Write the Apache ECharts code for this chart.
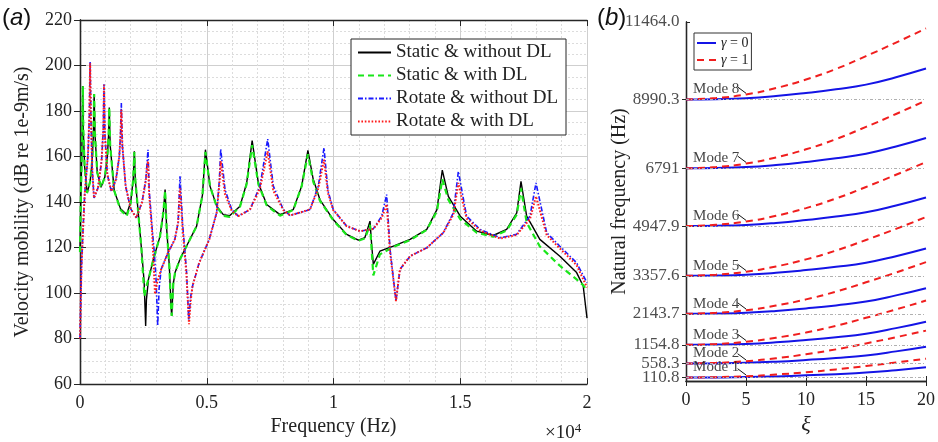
<!DOCTYPE html>
<html><head><meta charset="utf-8">
<script src="https://cdn.jsdelivr.net/npm/echarts@6/dist/echarts.min.js"></script>
<style>html,body{margin:0;padding:0;background:#fff}#c{width:938px;height:442px}</style>
</head><body><div id="c"></div>
<script>
// ---------- Panel (a): frequency response, [Hz, dB] ----------
const staticNoDL = [[0,118],[30,140],[70,160],[95,176],[110.8,191],[130,172],[180,156],[280,144],[400,149],[480,158],[530,170],[558.3,187.5],[590,170],[680,153],[830,146.5],[980,151],[1080,160],[1130,170],[1154.8,181.5],[1190,165],[1350,145],[1600,137],[1840,134.5],[2000,140],[2100,150],[2143.7,162.3],[2180,150],[2300,135],[2420,120],[2530,105],[2590,85.5],[2620,97],[2700,106],[2893,114.8],[3156,124.9],[3287,135.4],[3357.6,145.5],[3420,128],[3524,111.9],[3590,94.3],[3617,89.9],[3680,104],[3750,109],[3940,114.8],[4200,120.6],[4600,129.4],[4830,143],[4947.9,163],[5128,147],[5392,138.2],[5653,134.5],[5900,134],[6312,138.2],[6575,148.4],[6791,167],[7035,148.4],[7364,138.9],[7890,134.5],[8414,136.7],[8744,147],[8990.3,162.7],[9200,150],[9467,141],[9990,132.3],[10520,125.8],[10980,123.3],[11240,124.4],[11440,131.6],[11500,122],[11571,112.6],[11830,118.4],[12360,120.6],[13020,123.6],[13680,128],[14080,136.7],[14292,154],[14530,142.5],[15000,133.8],[15650,127.2],[16300,125.3],[16830,128],[17230,135.3],[17396,149.1],[17620,133.8],[18140,123.6],[18930,116.2],[19590,109],[19850,103.1],[20000,89]];
const staticDL = [[0,118],[30,140],[70,160],[95,176],[110.8,191],[130,172],[180,156],[280,144],[400,149],[480,158],[530,170],[558.3,187.5],[590,170],[680,153],[830,146.5],[980,151],[1080,160],[1130,170],[1154.8,181.5],[1190,165],[1350,145],[1600,136.5],[1840,133.8],[2000,139.5],[2100,150],[2143.7,162],[2180,150],[2300,135],[2420,120],[2500,106],[2540,98.5],[2620,103],[2700,106],[2893,114.8],[3156,124.9],[3287,135.4],[3357.6,145],[3420,128],[3524,111.9],[3590,94.3],[3617,90],[3680,104],[3750,109],[3940,114.8],[4200,120.6],[4600,129.4],[4830,143],[4947.9,162],[5128,147],[5392,138],[5653,134],[5900,133.5],[6312,138],[6575,148],[6791,165],[7035,148],[7364,138.5],[7890,134],[8414,136.5],[8744,147],[8990.3,161],[9200,149],[9467,140.5],[9990,132],[10520,125.5],[10980,123],[11240,124],[11440,130],[11500,120],[11571,107.8],[11830,117],[12360,120.3],[13020,123.3],[13680,127.8],[14080,136],[14292,150],[14530,141],[15000,132.5],[15650,126.5],[16300,124.8],[16830,127.5],[17230,134.5],[17396,146],[17620,131],[18140,120.5],[18930,112],[19590,106],[19850,103.5],[20000,101]];
const rotNoDL = [[0,80],[60,112],[120,128],[185,143.3],[316,160.8],[370,178],[400,201.5],[430,178],[480,155],[552,141.8],[710,146.2],[850,158],[920,172],[947,191.8],[980,170],[1080,152],[1236,144.7],[1420,150],[1550,160],[1600,170],[1630,183.5],[1670,165],[1800,147],[2000,137],[2222,133.1],[2450,140],[2600,150],[2650,158],[2682,163],[2730,145],[2850,128],[2930,118],[3000,106],[3065,85.6],[3120,102],[3200,110.4],[3470,117.7],[3740,123.6],[3870,130.9],[3945,151.3],[4050,130],[4200,110],[4290,88],[4360,98],[4440,103.1],[4700,113.3],[5100,123.6],[5390,135.3],[5500,150],[5550,163.3],[5720,145.5],[5984,136.7],[6245,133.8],[6706,136.7],[7100,147],[7404,167.7],[7626,147],[8020,136.7],[8284,134.1],[9073,136.7],[9400,147],[9625,163.8],[9780,145],[9990,136.7],[10520,129.4],[11045,127.2],[11570,128.2],[11900,133.8],[12097,143.3],[12230,119.2],[12465,96.5],[12620,110.4],[13020,116.2],[13680,119.9],[14330,126.5],[14730,135.3],[14925,153.5],[15250,133.8],[15780,128],[16570,124.3],[17220,125.8],[17750,133.8],[17988,148.4],[18410,126.5],[18930,120.6],[19590,113.3],[20000,104.6]];
const rotDL = [[0,80],[60,112],[120,128],[185,143.3],[316,160.8],[370,178],[400,201],[430,178],[480,155],[552,141.8],[710,146.2],[850,158],[920,172],[947,191.5],[980,170],[1080,152],[1236,144.7],[1420,150],[1550,160],[1600,170],[1630,180.5],[1670,165],[1800,147],[2000,137],[2222,133.1],[2450,140],[2600,150],[2650,156],[2682,158],[2730,143],[2850,126],[2959,99.5],[3050,105],[3200,110.4],[3470,117.7],[3740,123.6],[3870,130.9],[3945,146],[4050,128],[4200,108],[4300,86.3],[4370,97],[4440,103.1],[4700,113.3],[5100,123.6],[5390,135.3],[5500,148],[5550,158],[5720,143.5],[5984,136.2],[6245,133.8],[6706,136.7],[7100,146],[7404,162.3],[7626,145],[8020,136.5],[8284,134.1],[9073,136.7],[9400,146],[9625,158.6],[9780,144],[9990,136.5],[10520,129.4],[11045,127.2],[11570,128.2],[11900,133],[12097,139],[12230,118],[12465,96.5],[12620,110.4],[13020,116.2],[13680,119.9],[14330,126.5],[14730,134.5],[14925,148.4],[15250,132.8],[15780,127.5],[16570,124],[17220,125.5],[17750,132.5],[17988,142.5],[18410,125.5],[18930,119.6],[19590,112.3],[20000,102.5]];
const seriesNamesA = ['Static & without DL','Static & with DL','Rotate & without DL','Rotate & with DL'];
const xTicksA = [0,5000,10000,15000,20000];
const xTickLabelsA = ['0','0.5','1','1.5','2'];

// ---------- Panel (b): natural frequency vs xi ----------
const xiValues = [0,2.5,5,7.5,10,12.5,15,17.5,20];
const modeNames = ['Mode 1','Mode 2','Mode 3','Mode 4','Mode 5','Mode 6','Mode 7','Mode 8'];
const modeFreqs = [110.8,558.3,1154.8,2143.7,3357.6,4947.9,6791,8990.3];
const yTickValuesB = [110.8,558.3,1154.8,2143.7,3357.6,4947.9,6791,8990.3,11464];
const yTickLabelsB = ['110.8','558.3','1154.8','2143.7','3357.6','4947.9','6791','8990.3','11464.0'];
const gamma0 = [
  [110.8,114,124,147,180,219,268,346,438],
  [558.3,564,580,617,671,736,817,946,1097],
  [1154.8,1162,1184,1236,1310,1399,1510,1688,1895],
  [2143.7,2152,2177,2234,2316,2414,2537,2734,2964],
  [3357.6,3366,3393,3454,3541,3646,3777,3986,4231],
  [4947.9,4957,4984,5048,5140,5250,5387,5606,5862],
  [6791,6801,6830,6898,6995,7111,7257,7489,7761],
  [8990.3,9000,9030,9099,9197,9316,9464,9701,9977]
];
const gamma1 = [
  [110.8,123,153,207,279,370,478,592,713],
  [558.3,579,632,726,853,1010,1199,1399,1609],
  [1154.8,1183,1254,1381,1550,1762,2017,2285,2568],
  [2143.7,2177,2259,2408,2606,2854,3151,3465,3796],
  [3357.6,3395,3489,3658,3883,4165,4503,4859,5235],
  [4947.9,4989,5091,5275,5521,5828,6196,6585,6994],
  [6791,6834,6943,7138,7398,7724,8114,8526,8960],
  [8990.3,9036,9149,9354,9626,9966,10375,10806,11260]
];

const SERIF = 'Liberation Serif, Times New Roman, serif';
const TXT = '#222';
const axisLineStyle = {lineStyle:{color:'#262626', width:1.3}};

const chart = echarts.init(document.getElementById('c'), null, {renderer:'canvas'});

function pairs(xs, ys){ return xs.map((x,i)=>[x, ys[i]]); }

const series = [];
const stylesA = [
  {color:'#000000', width:1.4, type:'solid'},
  {color:'#19e619', width:2.2, type:[6,4]},
  {color:'#1a1aff', width:1.6, type:[5,2,1.5,2]},
  {color:'#ff1a1a', width:2, type:[1.6,1.8]}
];
[staticNoDL, staticDL, rotNoDL, rotDL].forEach((d,i)=>{
  series.push({type:'line', name:seriesNamesA[i], xAxisIndex:0, yAxisIndex:0, data:d,
    symbol:'none', showSymbol:false, animation:false, z:3+i,
    lineStyle:{color:stylesA[i].color, width:stylesA[i].width, type:stylesA[i].type},
    itemStyle:{color:stylesA[i].color}});
});

// Panel b grid lines at mode frequencies
series.push({type:'line', name:'_grid', xAxisIndex:2, yAxisIndex:2, data:[], symbol:'none', z:1, silent:true,
  markLine:{silent:true, symbol:'none', label:{show:false}, animation:false,
    lineStyle:{color:'#b0b0b0', width:1, type:[3,2,1,2]},
    data: modeFreqs.map(f=>({yAxis:f}))}});

gamma0.forEach((d,i)=>{
  series.push({type:'line', name:'γ = 0', xAxisIndex:2, yAxisIndex:2, data:pairs(xiValues,d),
    smooth:true, symbol:'none', animation:false, z:3,
    lineStyle:{color:'#1414e6', width:2, type:'solid'}, itemStyle:{color:'#1414e6'}});
});
gamma1.forEach((d,i)=>{
  series.push({type:'line', name:'γ = 1', xAxisIndex:2, yAxisIndex:2, data:pairs(xiValues,d),
    smooth:true, symbol:'none', animation:false, z:4,
    lineStyle:{color:'#f01e1e', width:2, type:[7,5]}, itemStyle:{color:'#f01e1e'}});
});

// Mode labels with arrows
series.push({type:'scatter', name:'_modes', xAxisIndex:2, yAxisIndex:2, silent:true, z:6,
  symbolSize:1, itemStyle:{color:'rgba(0,0,0,0)'}, animation:false,
  data: modeFreqs.map((f,i)=>({value:[0.55,f], label:{formatter:modeNames[i]}})),
  label:{show:true, position:'right', distance:0, offset:[0,-10], color:'#111', fontFamily:SERIF, fontSize:15},
  markLine:{silent:true, animation:false, symbol:['none','arrow'], symbolSize:[0,5], label:{show:false},
    lineStyle:{color:'#111', width:1, type:'solid'},
    data: gamma1.map(d=>[{coord:[4.3, d[2]+240]},{coord:[5, d[2]+40]}])}
});

// Panel b y tick labels (drawn as labels so closely spaced ones all show)
series.push({type:'scatter', name:'_yticks', xAxisIndex:2, yAxisIndex:2, silent:true, z:6, clip:false,
  symbolSize:1, itemStyle:{color:'rgba(0,0,0,0)'}, animation:false,
  data: yTickValuesB.map((v,i)=>({value:[0,v], label:{formatter:yTickLabelsB[i]}})),
  label:{show:true, position:'left', distance:6, color:TXT, fontFamily:SERIF, fontSize:17}
});

const noSymbol = {color:'rgba(0,0,0,0)', borderWidth:0, opacity:0};

const option = {
  backgroundColor:'#ffffff',
  animation:false,
  textStyle:{fontFamily:SERIF},
  grid:[
    {left:80, top:20, width:507, height:365},
    {left:686, top:22, width:244, height:359}
  ],
  legend:[
    {data:seriesNamesA.map(n=>({name:n, itemStyle:noSymbol})), orient:'vertical', left:351, top:39, padding:[4,8,4,6],
     borderColor:'#262626', borderWidth:1, backgroundColor:'#fff',
     itemWidth:33, itemHeight:14, itemGap:4, selectedMode:false, itemStyle:noSymbol,
     textStyle:{fontFamily:SERIF, fontSize:19, lineHeight:19, color:TXT}},
    {data:['γ = 0','γ = 1'].map(n=>({name:n, itemStyle:noSymbol})), orient:'vertical', left:694, top:33, padding:[3,3,3,2],
     borderColor:'#333', borderWidth:1, backgroundColor:'#fff',
     itemWidth:19, itemHeight:10, itemGap:3, selectedMode:false, itemStyle:noSymbol,
     formatter: n => '{g|γ}' + n.slice(1),
     textStyle:{fontFamily:SERIF, fontSize:14, lineHeight:14, color:TXT,
       rich:{g:{fontFamily:SERIF, fontStyle:'italic', fontSize:14, color:TXT}}}}
  ],
  xAxis:[
    {gridIndex:0, type:'value', min:0, max:20000, interval:5000, position:'bottom',
     axisLine:axisLineStyle, axisTick:{inside:true, length:6, lineStyle:{color:'#262626'}},
     axisLabel:{color:TXT, fontSize:18, fontFamily:SERIF, margin:10,
       formatter: v => xTickLabelsA[xTicksA.indexOf(v)]},
     splitLine:{show:true, lineStyle:{color:'#cfcfcf', width:1}},
     minorTick:{show:false, splitNumber:5},
     minorSplitLine:{show:true, lineStyle:{color:'#dcdcdc', width:1, type:[2,2]}},
     name:'Frequency (Hz)', nameLocation:'middle', nameGap:30,
     nameTextStyle:{color:TXT, fontSize:20, fontFamily:SERIF}},
    {gridIndex:0, type:'value', min:0, max:20000, interval:5000, position:'top',
     axisLine:axisLineStyle, axisTick:{inside:true, length:6, lineStyle:{color:'#262626'}},
     axisLabel:{show:false}, splitLine:{show:false}},
    {gridIndex:1, type:'value', min:0, max:20, interval:5, position:'bottom',
     axisLine:axisLineStyle, axisTick:{inside:true, length:5, lineStyle:{color:'#262626'}},
     axisLabel:{color:TXT, fontSize:18, fontFamily:SERIF, margin:10},
     splitLine:{show:false},
     name:'ξ', nameLocation:'middle', nameGap:18,
     nameTextStyle:{color:TXT, fontSize:22, fontFamily:SERIF, fontStyle:'italic'}},
    {gridIndex:1, type:'value', min:0, max:20, interval:5, position:'top',
     axisLine:axisLineStyle, axisTick:{inside:true, length:5, lineStyle:{color:'#262626'}},
     axisLabel:{show:false}, splitLine:{show:false}}
  ],
  yAxis:[
    {gridIndex:0, type:'value', min:60, max:220, interval:20, position:'left',
     axisLine:axisLineStyle, axisTick:{inside:true, length:6, lineStyle:{color:'#262626'}},
     axisLabel:{color:TXT, fontSize:18, fontFamily:SERIF, margin:8},
     splitLine:{show:true, lineStyle:{color:'#cfcfcf', width:1}},
     minorTick:{show:false, splitNumber:4},
     minorSplitLine:{show:true, lineStyle:{color:'#dcdcdc', width:1, type:[2,2]}},
     name:'Velocity mobility (dB re 1e-9m/s)', nameLocation:'middle', nameGap:47,
     nameTextStyle:{color:TXT, fontSize:20, fontFamily:SERIF}},
    {gridIndex:0, type:'value', min:60, max:220, interval:20, position:'right',
     axisLine:axisLineStyle, axisTick:{inside:true, length:6, lineStyle:{color:'#262626'}},
     axisLabel:{show:false}, splitLine:{show:false}},
    {gridIndex:1, type:'value', min:0, max:11464, position:'left',
     axisLine:axisLineStyle,
     axisTick:{inside:true, length:4, customValues:yTickValuesB, lineStyle:{color:'#262626'}},
     axisLabel:{show:false},
     splitLine:{show:false},
     name:'Natural frequency (Hz)', nameLocation:'middle', nameGap:56,
     nameTextStyle:{color:TXT, fontSize:20, fontFamily:SERIF}},
    {gridIndex:1, type:'value', min:0, max:11464, position:'right',
     axisLine:axisLineStyle,
     axisTick:{inside:true, length:4, customValues:modeFreqs, lineStyle:{color:'#262626'}},
     axisLabel:{show:false}, splitLine:{show:false}}
  ],
  graphic:[
    {type:'text', left:2, top:6, style:{text:'({i|a})', fill:'#111', font:'24px Liberation Sans, Arial, sans-serif',
      rich:{i:{fontStyle:'italic', fontSize:24, fontFamily:'Liberation Sans, Arial, sans-serif', fill:'#111'}}}},
    {type:'text', left:597, top:6, style:{text:'({i|b})', fill:'#111', font:'24px Liberation Sans, Arial, sans-serif',
      rich:{i:{fontStyle:'italic', fontSize:24, fontFamily:'Liberation Sans, Arial, sans-serif', fill:'#111'}}}},
    {type:'text', left:545, top:422, style:{text:'×10{s|4}', fill:TXT, font:'19px Liberation Serif, serif',
      rich:{s:{fontSize:13, fontFamily:SERIF, verticalAlign:'top', padding:[0,0,10,0], fill:TXT}}}}
  ],
  series: series
};
chart.setOption(option);
</script>
</body></html>
